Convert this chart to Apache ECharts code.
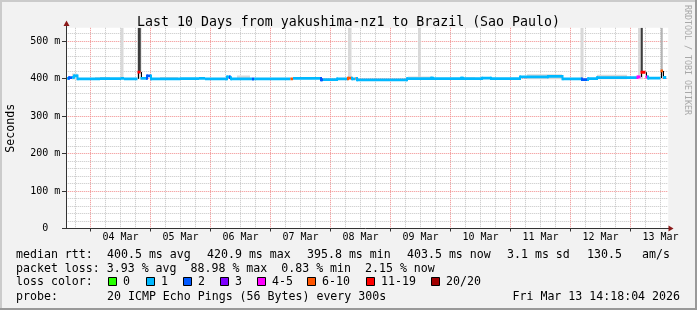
<!DOCTYPE html>
<html><head><meta charset="utf-8">
<script src="https://cdn.jsdelivr.net/npm/echarts@6/dist/echarts.min.js"></script>
<style>html,body{margin:0;padding:0;background:#f2f2f2}#c{width:697px;height:310px}</style>
</head><body><div id="c"></div>
<script>
// ---- data (hours since 03 Mar 00:00) ----
const dayLabels = ['04 Mar','05 Mar','06 Mar','07 Mar','08 Mar','09 Mar','10 Mar','11 Mar','12 Mar','13 Mar'];
const dayLabelHours = [36,60,84,108,132,156,180,204,228,252];
const yTickValues = [0,100,200,300,400,500];

const medianStart = [14.3,15.4,16.6,17.4,18.8,27.8,36.2,37.4,42.8,44.0,46.6,48.2,59.8,67.4,69.8,78.6,79.8,80.2,88.6,89.4,104.0,105.0,116.2,117.0,122.6,127.0,128.6,130.0,130.6,150.6,160.2,161.0,172.2,173.0,180.6,184.2,195.8,207.0,212.8,220.6,223.0,226.6,242.8,244.0,246.0,247.0,252.0,253.0];
const medianEndHour = 254.3;
const medianMs = [401,403,404,408,400,400.5,401,400,418,401,408,400,400.5,401,400,405,403,400,399.5,400,400,401,397.5,398,400,402,400,401,397,400.5,402,400.5,402,400.5,402,400.5,405,406.5,400,398,400.5,403,405,417.5,405,402,420.9,403.5];
const medianLoss = [1,2,1,1,1,1,1,1,11,1,2,1,1,1,1,1,2,1,2,1,6,1,2,1,1,6,1,6,1,1,1,1,1,1,1,1,1,1,1,2,1,1,4,11,4,1,6,1];

const lightSmokeStart = [16.6,25.8,36.0,42.6,51.8,82.6,106.2,127.0,151.0,155.0,171.8,198.6,220.0,226.6,243.0];
const lightSmokeEnd   = [18.8,31.8,37.2,44.4,59.0,87.8,112.6,128.4,160.6,156.1,177.8,212.6,221.2,238.6,245.0];
const lightSmokeLow   = [398,399,399,399,399,399,399,399,399,399,399,399,399,399,399];
const lightSmokeHigh  = [414,405,560,560,405,409,404,560,406,560,404,412,560,411,560];
const midSmokeStart = [252.1];
const midSmokeEnd   = [252.9];
const midSmokeLow   = [403];
const midSmokeHigh  = [560];
const darkSmokeStart = [43.0,244.1];
const darkSmokeEnd   = [44.1,244.9];
const darkSmokeLow   = [418,418];
const darkSmokeHigh  = [560,560];

const lossNames  = ['0','1','2','3','4-5','6-10','11-19','20/20'];
const lossColors = ['#26ff00','#00b8ff','#0059ff','#7e00ff','#ff00ff','#ff5500','#ff0000','#a10000'];
const lossUpper  = [0,1,2,3,5,10,19,20];

const FONT = '"DejaVu Sans Mono", monospace';
const X_MIN = 14.3, X_MAX = 255.1, Y_MAX = 536;
const GL = 66.25, GT = 27.8, GW = 602, GH = 201;

function lossColor(l){ for(let i=0;i<lossUpper.length;i++) if(l<=lossUpper[i]) return lossColors[i]; return lossColors[7]; }

// grid lines
const gridItems = [];
for (let h=18; h<=252; h+=6) gridItems.push({o:'v', v:h, major: h%24===0});
for (let v=20; v<=520; v+=20) gridItems.push({o:'h', v:v, major: v%100===0});
yTickValues.forEach(v=>gridItems.push({o:'t', v:v}));

function smokeSeries(s,e,lo,hi,color,z){
  return {type:'custom', coordinateSystem:'cartesian2d', silent:true, z:z, clip:true,
    data: s.map((x,i)=>[x,e[i],lo[i],hi[i]]),
    encode:{x:[0,1], y:[2]},
    renderItem:(params,api)=>{
      const a=api.coord([api.value(0), Math.min(api.value(3),Y_MAX)]);
      const b=api.coord([api.value(1), api.value(2)]);
      return {type:'rect', shape:{x:a[0], y:a[1], width:b[0]-a[0], height:b[1]-a[1]}, style:{fill:color}};
    }};
}

const medianData = medianStart.map((s,i)=>[s, i+1<medianStart.length?medianStart[i+1]:medianEndHour, medianMs[i], medianLoss[i], i>0?medianMs[i-1]:medianMs[i]]);

const chart = echarts.init(document.getElementById('c'), null, {renderer:'canvas'});
const textEl = (x,y,text,opt={}) => ({type:'text', x, y, z:100, style:Object.assign({text, font:'11.6px '+FONT, fill:'#000', verticalAlign:'middle', align:'left'}, opt)});

const graphics = [
  {type:'rect', shape:{x:0,y:0,width:697,height:2}, style:{fill:'#cbcbcb'}, z:100},
  {type:'rect', shape:{x:0,y:0,width:2,height:310}, style:{fill:'#cbcbcb'}, z:100},
  {type:'rect', shape:{x:0,y:308,width:697,height:2}, style:{fill:'#999'}, z:100},
  {type:'rect', shape:{x:695,y:0,width:2,height:310}, style:{fill:'#999'}, z:100},
  // axes
  {type:'line', shape:{x1:66.5,y1:GT+GH,x2:66.5,y2:25}, style:{stroke:'#333',lineWidth:1}, z:90},
  {type:'polygon', shape:{points:[[66.5,20.5],[63.5,26],[69.5,26]]}, style:{fill:'#8b1a1a'}, z:90},
  {type:'line', shape:{x1:62,y1:228.5,x2:669,y2:228.5}, style:{stroke:'#333',lineWidth:1}, z:90},
  {type:'polygon', shape:{points:[[673.5,228.5],[668.5,225.5],[668.5,231.5]]}, style:{fill:'#8b1a1a'}, z:90},
  // side texts
  {type:'text', x:11, y:GT+GH/2, rotation:Math.PI/2, z:100, style:{text:'Seconds', font:'11.6px '+FONT, fill:'#000', align:'center', verticalAlign:'middle'}},
  {type:'text', x:687.5, y:60, rotation:-Math.PI/2, z:100, style:{text:'RRDTOOL / TOBI OETIKER', font:'8.3px '+FONT, fill:'#a8a8a8', align:'center', verticalAlign:'middle'}},
  // legend
  textEl(16,254.5,'median rtt:'),
  textEl(107,254.5,'400.5 ms avg'),
  textEl(207,254.5,'420.9 ms max'),
  textEl(307,254.5,'395.8 ms min'),
  textEl(407,254.5,'403.5 ms now'),
  textEl(507,254.5,'3.1 ms sd'),
  textEl(587,254.5,'130.5'),
  textEl(642,254.5,'am/s'),
  textEl(16,268.5,'packet loss: 3.93 % avg  88.98 % max  0.83 % min  2.15 % now'),
  textEl(16,282,'loss color:'),
  textEl(16,296.5,'probe:'),
  textEl(107,296.5,'20 ICMP Echo Pings (56 Bytes) every 300s'),
  textEl(680,296.5,'Fri Mar 13 14:18:04 2026',{align:'right'})
];
const boxX = [108,146,183,220,257,307,366,431];
lossNames.forEach((n,i)=>{
  graphics.push({type:'rect', z:100, shape:{x:boxX[i]+0.5,y:277.5,width:8,height:8}, style:{fill:lossColors[i], stroke:'#000', lineWidth:1}});
  graphics.push(textEl(boxX[i]+15,282,n));
});

chart.setOption({
  backgroundColor:'#f2f2f2',
  animation:false,
  title:{text:'Last 10 Days from yakushima-nz1 to Brazil (Sao Paulo)', left:'center', top:11,
    textStyle:{fontFamily:FONT, fontSize:13.25, fontWeight:'normal', color:'#000'}},
  grid:{left:GL, top:GT, width:GW, height:GH, show:true, backgroundColor:'#ffffff', borderWidth:0, containLabel:false},
  xAxis:{type:'value', min:X_MIN, max:X_MAX, axisLine:{show:false}, axisTick:{show:false}, splitLine:{show:false},
    axisLabel:{customValues:dayLabelHours, formatter:v=>dayLabels[dayLabelHours.indexOf(v)]||'', fontFamily:FONT, fontSize:10, color:'#000', margin:4}},
  yAxis:{type:'value', min:0, max:Y_MAX, interval:100, axisLine:{show:false}, axisTick:{show:false}, splitLine:{show:false},
    axisLabel:{formatter:v=>v===0?'0  ':(v%100===0?v+' m':''), showMaxLabel:false, fontFamily:FONT, fontSize:10, color:'#000', margin:6}},
  graphic: graphics,
  series:[
    {type:'custom', coordinateSystem:'cartesian2d', silent:true, z:1, clip:false,
      data: gridItems.map(g=>g.o==='v'?[g.v,0]:[20,g.v]),
      renderItem:(params,api)=>{
        const g=gridItems[params.dataIndex], cs=params.coordSys;
        if(g.o==='v'){
          const x=Math.floor(api.coord([g.v,0])[0])+0.5;
          const ch=[{type:'line', shape:{x1:x,y1:cs.y,x2:x,y2:cs.y+cs.height}, style:{stroke:g.major?'#f08c8c':'#c4c4c4', lineWidth:1, lineDash:[1,1]}}];
          if(g.major) ch.push({type:'line', shape:{x1:x,y1:228.5,x2:x,y2:231.5}, style:{stroke:'#333',lineWidth:1}});
          return {type:'group', children:ch};
        }
        const y=Math.floor(api.coord([20,g.v])[1])+0.5;
        if(g.o==='t') return {type:'line', shape:{x1:62,y1:y,x2:66.5,y2:y}, style:{stroke:'#333',lineWidth:1}};
        return {type:'line', shape:{x1:cs.x,y1:y,x2:cs.x+cs.width,y2:y}, style:{stroke:g.major?'#f08c8c':'#c4c4c4', lineWidth:1, lineDash:[1,1]}};
      }},
    smokeSeries(lightSmokeStart,lightSmokeEnd,lightSmokeLow,lightSmokeHigh,'#d9d9d9',2),
    smokeSeries(midSmokeStart,midSmokeEnd,midSmokeLow,midSmokeHigh,'#b4b4b4',3),
    smokeSeries(darkSmokeStart,darkSmokeEnd,darkSmokeLow,darkSmokeHigh,'#3c3c3c',4),
    {type:'custom', coordinateSystem:'cartesian2d', silent:true, z:5, clip:true,
      data: medianData, encode:{x:[0,1], y:2},
      renderItem:(params,api)=>{
        const s=api.value(0), e=api.value(1), v=api.value(2), l=api.value(3), pv=api.value(4);
        const a=api.coord([s,v]), b=api.coord([e,v]), p=api.coord([s,pv]);
        const col=lossColor(l), ch=[];
        const dy=Math.abs(p[1]-a[1]);
        if(dy>4){
          const x=Math.round(a[0])+0.5;
          ch.push({type:'line', shape:{x1:x,y1:p[1],x2:x,y2:a[1]}, style:{stroke:'#000',lineWidth:1}});
        } else if(dy>0.5){
          ch.push({type:'rect', shape:{x:a[0]-1,y:Math.min(p[1],a[1])-1.4,width:2,height:dy+2.8}, style:{fill:col}});
        }
        ch.push({type:'rect', shape:{x:a[0],y:a[1]-1.4,width:b[0]-a[0],height:2.8}, style:{fill:col}});
        return {type:'group', children:ch};
      }}
  ]
});
</script></body></html>
